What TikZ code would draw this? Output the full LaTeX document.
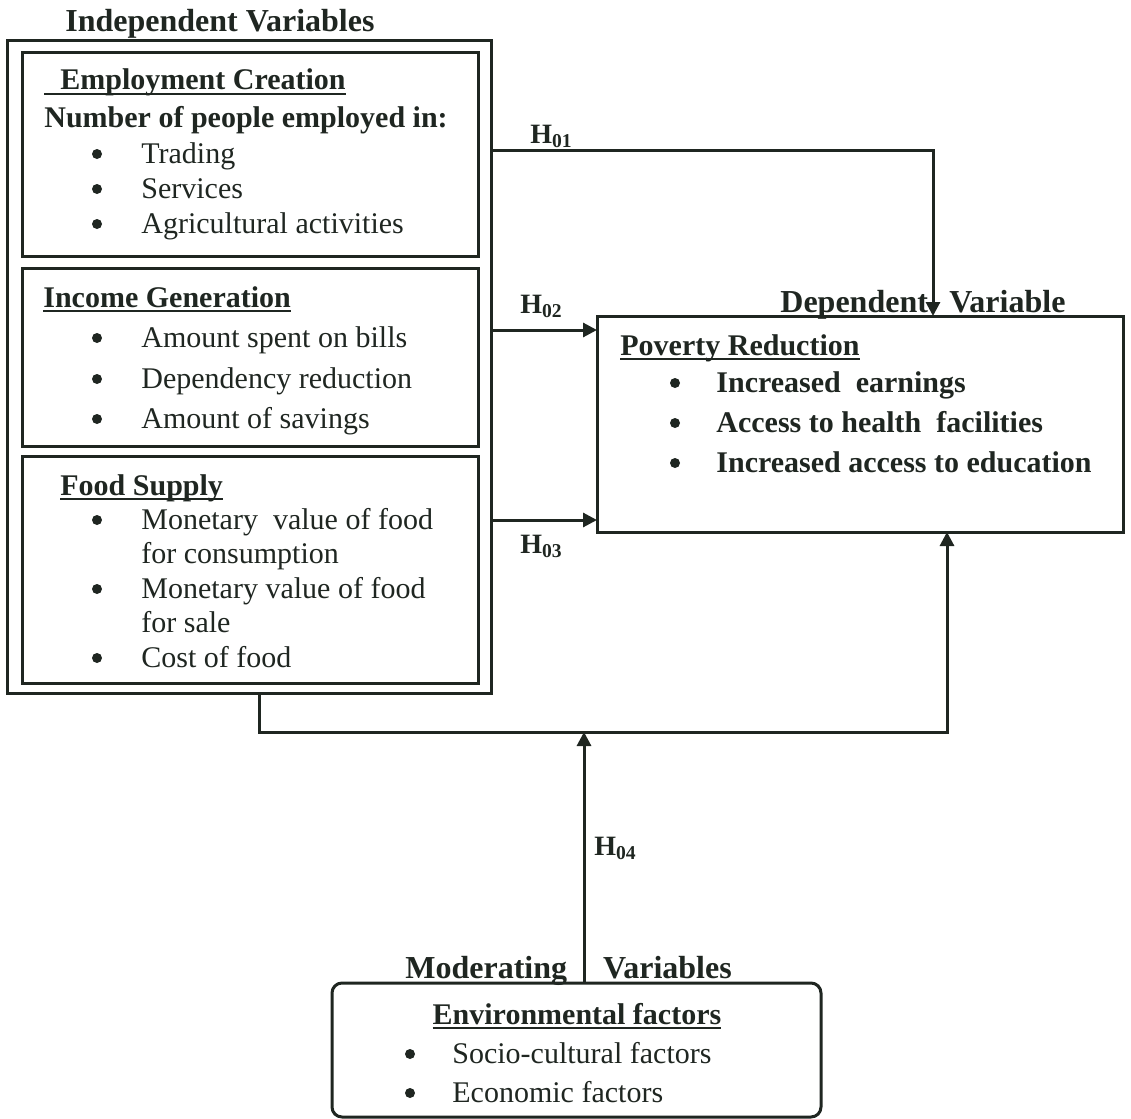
\documentclass[tikz,border=0pt]{standalone}
\usepackage{fontspec}
\setmainfont{Liberation Serif}
\usetikzlibrary{arrows.meta}
\definecolor{ink}{rgb}{0.12,0.15,0.13}
\newsavebox\ulbox
\newcommand{\uln}[1]{\sbox\ulbox{#1}\rlap{\rule[-2.6pt]{\wd\ulbox}{0.9pt}}\usebox\ulbox}
\tikzset{
  box/.style={draw=ink, line width=1.5pt, inner sep=0, outer sep=0},
  txt/.style={anchor=base west, inner sep=0, text=ink, font=\fontsize{15}{18}\selectfont},
  head/.style={txt, font=\fontsize{16}{19}\selectfont\bfseries},
  bul/.style={circle, fill=ink, inner sep=0, minimum size=5pt},
  hyp/.style={txt, font=\fontsize{14}{17}\selectfont\bfseries},
  arr/.style={draw=ink, line width=1.5pt, -{Triangle[length=7pt,width=7pt]}},
}
\begin{document}
\begin{tikzpicture}[x=0.5pt,y=-0.5pt]
  \useasboundingbox (0,0) rectangle (1131,1119);
  % boxes
  \node[box, minimum width=242pt, minimum height=326.5pt] (indep) at (249,366.5) {};
  \node[box, minimum width=228pt, minimum height=102pt] (emp) at (250,154) {};
  \node[box, minimum width=228pt, minimum height=89pt] (inc) at (250,357) {};
  \node[box, minimum width=228pt, minimum height=113.5pt] (food) at (250,569.5) {};
  \node[box, minimum width=263pt, minimum height=108pt] (pov) at (860,424) {};
  \node[box, rounded corners=5pt, minimum width=244.5pt, minimum height=67pt] (env) at (576.5,1050) {};
  % headings
  \node[head] (indeptitle) at (65,32) {Independent Variables};
  \node[head] (deptitle) at (780,312) {Dependent\ \ \,Variable};
  \node[head] (modtitle) at (405,978) {Moderating\hspace{18pt}Variables};
  % employment creation
  \node[txt, font=\fontsize{15}{18}\selectfont\bfseries] (emptitle) at (44,90) {\uln{\hspace{8pt}Employment Creation}};
  \node[txt, font=\fontsize{15}{18}\selectfont\bfseries] (empsub) at (44,127) {Number of people employed in:};
  \foreach \y/\t [count=\i] in {163/Trading, 198/Services, 233/Agricultural activities} {
    \node[bul] (empb\i) at (97,\y-9) {};
    \node[txt] (empt\i) at (141,\y) {\t};
  }
  % income generation
  \node[txt, font=\fontsize{15}{18}\selectfont\bfseries] (inctitle) at (43,307) {\uln{Income Generation}};
  \foreach \y/\t [count=\i] in {347/Amount spent on bills, 388/Dependency reduction, 428/Amount of savings} {
    \node[bul] (incb\i) at (97,\y-9) {};
    \node[txt] (inct\i) at (141,\y) {\t};
  }
  % food supply
  \node[txt, font=\fontsize{15}{18}\selectfont\bfseries] (foodtitle) at (60,495) {\uln{Food Supply}};
  \foreach \y [count=\i] in {529,598,667}
    \node[bul] (foodb\i) at (97,\y-9) {};
  \node[txt] (foodt1) at (141,529) {Monetary\ \ value of food};
  \node[txt] (foodt1b) at (141,563) {for consumption};
  \node[txt] (foodt2) at (141,598) {Monetary value of food};
  \node[txt] (foodt2b) at (141,632) {for sale};
  \node[txt] (foodt3) at (141,667) {Cost of food};
  % poverty reduction
  \node[txt, font=\fontsize{15}{18}\selectfont\bfseries] (povtitle) at (620,355) {\uln{Poverty Reduction}};
  \foreach \y/\t [count=\i] in {392/Increased\ \ earnings, 432/Access to health\ \ facilities, 472/Increased access to education} {
    \node[bul] (povb\i) at (675,\y-9) {};
    \node[txt, font=\fontsize{15}{18}\selectfont\bfseries] (povt\i) at (716,\y) {\t};
  }
  % environmental factors
  \node[txt, anchor=base, font=\fontsize{15}{18}\selectfont\bfseries] (envtitle) at (577,1024) {\uln{Environmental factors}};
  \foreach \y/\t [count=\i] in {1063/Socio-cultural factors, 1102/Economic factors} {
    \node[bul] (envb\i) at (410,\y-9) {};
    \node[txt] (envt\i) at (452,\y) {\t};
  }
  % hypotheses
  \node[hyp] (h01) at (530,143) {H\textsubscript{01}};
  \node[hyp] (h02) at (520,313) {H\textsubscript{02}};
  \node[hyp] (h03) at (520,553) {H\textsubscript{03}};
  \node[hyp] (h04) at (594,855) {H\textsubscript{04}};
  % connectors
  \coordinate (y1) at (0,150);
  \coordinate (y2) at (0,330);
  \coordinate (y3) at (0,520);
  \coordinate (x1) at (933,0);
  \coordinate (x2) at (947,0);
  \coordinate (x3) at (259,0);
  \coordinate (j) at (584,732);
  \draw[arr] (indep.east |- y1) -| (pov.north -| x1);
  \draw[arr] (indep.east |- y2) -- (pov.west |- y2);
  \draw[arr] (indep.east |- y3) -- (pov.west |- y3);
  \draw[arr] (indep.south -| x3) |- (j) -| (pov.south -| x2);
  \draw[arr] (env.north -| j) -- (j);
\end{tikzpicture}
\end{document}
